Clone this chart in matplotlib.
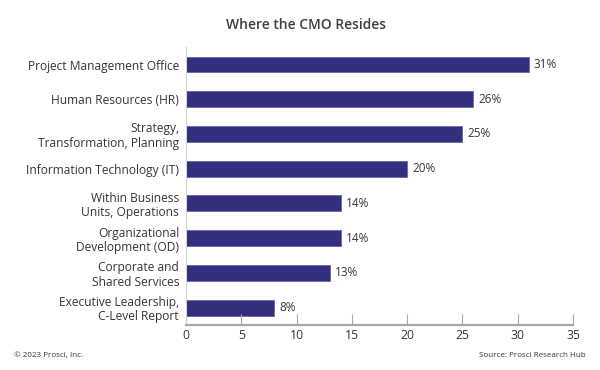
import matplotlib.pyplot as plt

# ----------------------------
# Data
# ----------------------------
categories = [
    "Project Management Office",
    "Human Resources (HR)",
    "Strategy,\nTransformation, Planning",
    "Information Technology (IT)",
    "Within Business\nUnits, Operations",
    "Organizational\nDevelopment (OD)",
    "Corporate and\nShared Services",
    "Executive Leadership,\nC-Level Report",
]
values = [31, 26, 25, 20, 14, 14, 13, 8]
xticks = [0, 5, 10, 15, 20, 25, 30, 35]

bar_color = "#32307e"
text_color = "#363636"
axis_color = "#a8a8a8"

plt.rcParams["font.family"] = ["Open Sans", "DejaVu Sans"]

fig = plt.figure(figsize=(6, 3.7), dpi=100)
ax = fig.add_axes([0.31, 0.1216, 0.645, 0.751])

ypos = list(range(len(categories)))
ax.barh(ypos, values, height=0.46, color=bar_color, edgecolor="#6a68a8", linewidth=0.6)

for y, v in zip(ypos, values):
    ax.text(v + 0.45, y, f"{v}%", va="center", ha="left", fontsize=8.5, color=text_color)

ax.set_yticks(ypos)
ax.set_yticklabels(categories, fontsize=8.65, color=text_color, linespacing=1.12)
ax.set_ylim(len(categories) - 0.5, -0.5)
ax.set_xlim(0, 35)
ax.set_xticks(xticks)
ax.tick_params(axis="x", direction="in", length=8, width=0.8, color=axis_color,
               labelsize=8.8, labelcolor=text_color, pad=3)
ax.tick_params(axis="y", length=0, pad=5)

for side in ["top", "right"]:
    ax.spines[side].set_visible(False)
ax.spines["left"].set_color("#d4d4d4")
ax.spines["left"].set_linewidth(0.8)
ax.spines["bottom"].set_color(axis_color)
ax.spines["bottom"].set_linewidth(1.6)

fig.text(0.51, 0.932, "Where the CMO Resides", ha="center", va="center",
         fontsize=10, fontweight="semibold", color="#3d3f45")
fig.text(0.023, 0.04, "© 2023 Prosci, Inc.", ha="left", va="center",
         fontsize=5.8, color=text_color)
fig.text(0.977, 0.04, "Source: Prosci Research Hub", ha="right", va="center",
         fontsize=5.8, color=text_color)

fig.savefig("out.png", dpi=100, facecolor="white")
